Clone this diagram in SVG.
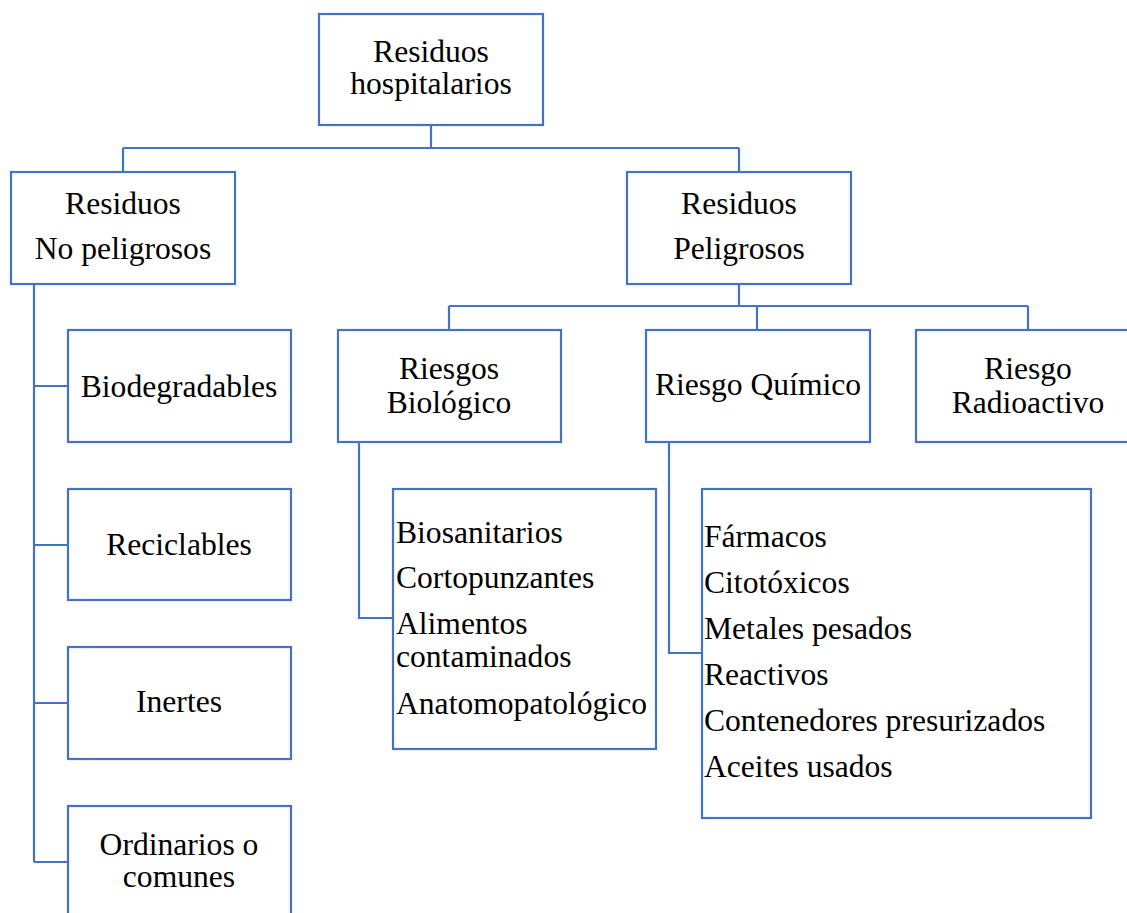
<svg xmlns="http://www.w3.org/2000/svg" width="1127" height="913" viewBox="0 0 1127 913">
<style>
.box{fill:#ffffff;stroke:#4472C4;stroke-width:2.2}
.con{fill:none;stroke:#4472C4;stroke-width:2.2}
text{font-family:"Liberation Serif","Times New Roman",serif;font-size:31.6px;fill:#000000}
.c{text-anchor:middle}
</style>
<rect width="1127" height="913" fill="#ffffff"/>
<g id="connectors">
<path class="con" d="M431 125 V148 M123 148 H739 M123 148 V171 M739 148 V171"/>
<path class="con" d="M739 284 V306 M449 306 H1028 M449 306 V330 M757 306 V330 M1028 306 V330"/>
<path class="con" d="M34 284 V862 M34 386 H68 M34 545 H68 M34 703 H68 M34 862 H68"/>
<path class="con" d="M359 442 V618 H393"/>
<path class="con" d="M669 442 V653 H702"/>
</g>
<g id="n-hospitalarios">
<rect class="box" x="319" y="14" width="224" height="111"/>
<text class="c" x="431" y="62">Residuos</text>
<text class="c" x="431" y="94">hospitalarios</text>
</g>
<g id="n-nopeligrosos">
<rect class="box" x="11" y="172" width="224" height="112"/>
<text class="c" x="123" y="214">Residuos</text>
<text class="c" x="123" y="259">No peligrosos</text>
</g>
<g id="n-peligrosos">
<rect class="box" x="627" y="172" width="224" height="112"/>
<text class="c" x="739" y="214">Residuos</text>
<text class="c" x="739" y="259">Peligrosos</text>
</g>
<g id="n-biologico">
<rect class="box" x="338" y="330" width="223" height="112"/>
<text class="c" x="449" y="379">Riesgos</text>
<text class="c" x="449" y="413">Biológico</text>
</g>
<g id="n-quimico">
<rect class="box" x="646" y="330" width="224" height="112"/>
<text class="c" x="758" y="395">Riesgo Químico</text>
</g>
<g id="n-radioactivo">
<rect class="box" x="916" y="330" width="224" height="112"/>
<text class="c" x="1028" y="379">Riesgo</text>
<text class="c" x="1028" y="413">Radioactivo</text>
</g>
<g id="n-biodegradables">
<rect class="box" x="68" y="330" width="223" height="112"/>
<text class="c" x="179" y="397">Biodegradables</text>
</g>
<g id="n-reciclables">
<rect class="box" x="68" y="489" width="223" height="111"/>
<text class="c" x="179" y="555">Reciclables</text>
</g>
<g id="n-inertes">
<rect class="box" x="68" y="647" width="223" height="112"/>
<text class="c" x="179" y="712">Inertes</text>
</g>
<g id="n-ordinarios">
<rect class="box" x="68" y="806" width="223" height="120"/>
<text class="c" x="179" y="855">Ordinarios o</text>
<text class="c" x="179" y="887">comunes</text>
</g>
<g id="n-lista-biologico">
<rect class="box" x="393" y="489" width="263" height="260"/>
<text x="396" y="543">Biosanitarios</text>
<text x="396" y="588">Cortopunzantes</text>
<text x="396" y="634">Alimentos</text>
<text x="396" y="667">contaminados</text>
<text x="396" y="714">Anatomopatológico</text>
</g>
<g id="n-lista-quimico">
<rect class="box" x="702" y="489" width="389" height="329"/>
<text x="704" y="547">Fármacos</text>
<text x="704" y="593">Citotóxicos</text>
<text x="704" y="639">Metales pesados</text>
<text x="704" y="685">Reactivos</text>
<text x="704" y="731">Contenedores presurizados</text>
<text x="704" y="777">Aceites usados</text>
</g>
</svg>
